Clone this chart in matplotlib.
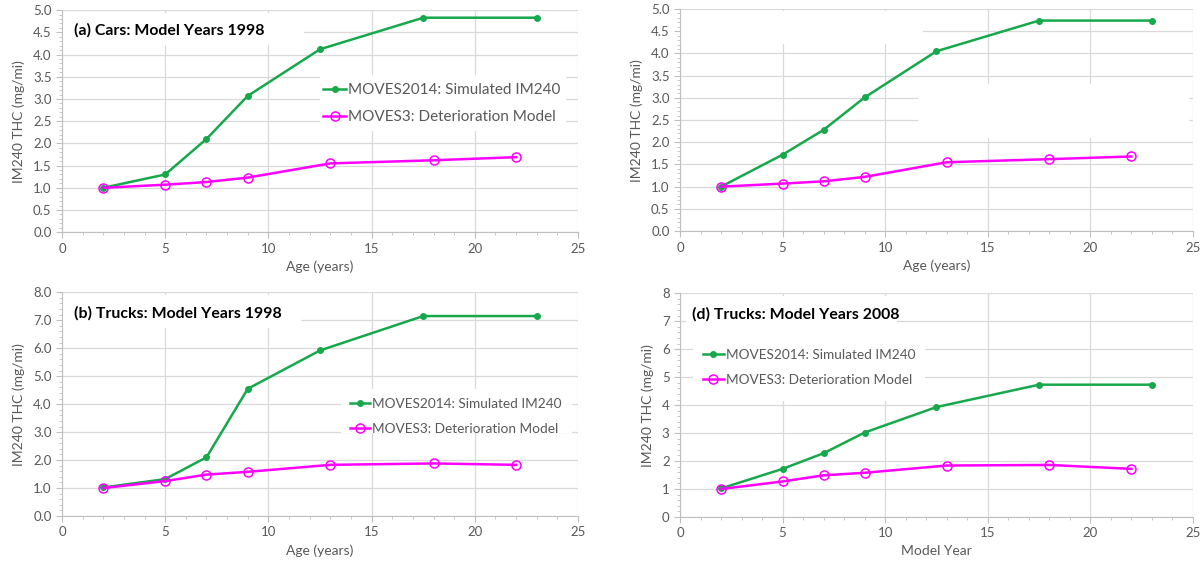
import matplotlib.pyplot as plt
from matplotlib.ticker import MultipleLocator, FormatStrFormatter
from matplotlib.patches import Rectangle

plt.rcParams['font.family'] = ['Lato', 'DejaVu Sans']

# ages of the points
age_2014 = [2, 5, 7, 9, 12.5, 17.5, 23]
age_m3 = [2, 5, 7, 9, 13, 18, 22]

# (a) cars 1998
cars98_2014 = [1.0, 1.30, 2.10, 3.07, 4.12, 4.83, 4.83]
cars98_m3 = [1.0, 1.07, 1.13, 1.23, 1.55, 1.62, 1.69]
# (c) cars, title missing in source
cars08_2014 = [1.0, 1.72, 2.28, 3.01, 4.05, 4.74, 4.74]
cars08_m3 = [1.0, 1.07, 1.12, 1.22, 1.55, 1.62, 1.68]
# (b) trucks 1998
trucks98_2014 = [1.02, 1.32, 2.10, 4.55, 5.92, 7.15, 7.15]
trucks98_m3 = [1.0, 1.25, 1.48, 1.58, 1.83, 1.88, 1.83]
# (d) trucks 2008
trucks08_2014 = [1.02, 1.72, 2.28, 3.02, 3.93, 4.73, 4.73]
trucks08_m3 = [1.0, 1.27, 1.49, 1.58, 1.84, 1.86, 1.72]

lab_2014 = 'MOVES2014: Simulated IM240'
lab_m3 = 'MOVES3: Deterioration Model'

GREEN = '#17a84b'
MAG = '#ff00ff'
GRAY = '#595959'

fig = plt.figure(figsize=(12.04, 5.65), dpi=100)

panels = [
    # rect, y-data, ymax, ystep, yfmt, xlabel, title, title y, legend pos, legend size, white blocks
    ([0.0515, 0.589, 0.4286, 0.393], cars98_2014, cars98_m3, 5.0, 0.5, '%.1f', 'Age (years)',
     '(a) Cars: Model Years 1998', 4.55, (0.506, 0.579), 11,
     [(0, 4.22, 11.7, 0.71), (12.5, 2.27, 11.9, 1.28)]),
    ([0.5648, 0.591, 0.426, 0.393], cars08_2014, cars08_m3, 5.0, 0.5, '%.1f', 'Age (years)',
     None, None, None, None,
     [(0.05, 4.22, 11.8, 0.73), (11.6, 2.09, 13.2, 1.23)]),
    ([0.0515, 0.0867, 0.4286, 0.396], trucks98_2014, trucks98_m3, 8.0, 1.0, '%.1f', 'Age (years)',
     '(b) Trucks: Model Years 1998', 7.25, (0.558, 0.446), 9.8,
     [(0, 6.74, 11.6, 1.15), (13.5, 2.97, 11.2, 1.56)]),
    ([0.5648, 0.085, 0.426, 0.396], trucks08_2014, trucks08_m3, 8.0, 1.0, '%.0f', 'Model Year',
     '(d) Trucks: Model Years 2008', 7.25, (0.045, 0.667), 9.8,
     [(0.3, 6.3, 10.3, 1.6), (0.64, 4.14, 11.3, 2.15)]),
]

for rect, y14, ym3, ymax, ystep, yfmt, xlab, title, ty, legpos, legfs, blocks in panels:
    ax = fig.add_axes(rect)
    ax.set_xlim(0, 25)
    ax.set_ylim(0, ymax)
    ax.xaxis.set_major_locator(MultipleLocator(5))
    ax.xaxis.set_minor_locator(MultipleLocator(1))
    ax.yaxis.set_major_locator(MultipleLocator(ystep))
    ax.yaxis.set_minor_locator(MultipleLocator(ystep / 5))
    ax.yaxis.set_major_formatter(FormatStrFormatter(yfmt))
    ax.grid(True, which='major', color='#d9d9d9', lw=0.9, zorder=0)
    ax.set_axisbelow(True)
    for s in ['top', 'right']:
        ax.spines[s].set_visible(False)
    for s in ['left', 'bottom']:
        ax.spines[s].set_color('#bfbfbf')
    ax.tick_params(which='major', length=4, color='#bfbfbf', labelcolor=GRAY, labelsize=9.5)
    ax.tick_params(which='minor', length=2, color='#bfbfbf')
    ax.set_xlabel(xlab, color=GRAY, fontsize=10, labelpad=4)
    ax.set_ylabel('IM240 THC (mg/mi)', color=GRAY, fontsize=10, labelpad=6)

    # white boxes behind titles/legends hide the gridlines
    for bx, by, bw, bh in blocks:
        ax.add_patch(Rectangle((bx, by), bw, bh, facecolor='white', edgecolor='none',
                               zorder=1.5))

    ax.plot(age_2014, y14, '-o', color=GREEN, lw=1.8, ms=4, label=lab_2014, zorder=3)
    ax.plot(age_m3, ym3, '-o', color=MAG, lw=1.8, ms=6.5, mfc='none', mec=MAG, mew=1.1,
            label=lab_m3, zorder=4)

    if title:
        ax.text(0.6, ty, title, fontsize=11.4, fontweight='bold', color='black',
                va='center', ha='left', zorder=5)
    if legpos:
        ax.legend(loc='center left', bbox_to_anchor=legpos, frameon=False, borderpad=0,
                  borderaxespad=0, handlelength=1.5, handletextpad=0.15,
                  labelspacing=0.85 * 11 / legfs, fontsize=legfs, labelcolor=GRAY)

fig.savefig('out.png', dpi=100)
